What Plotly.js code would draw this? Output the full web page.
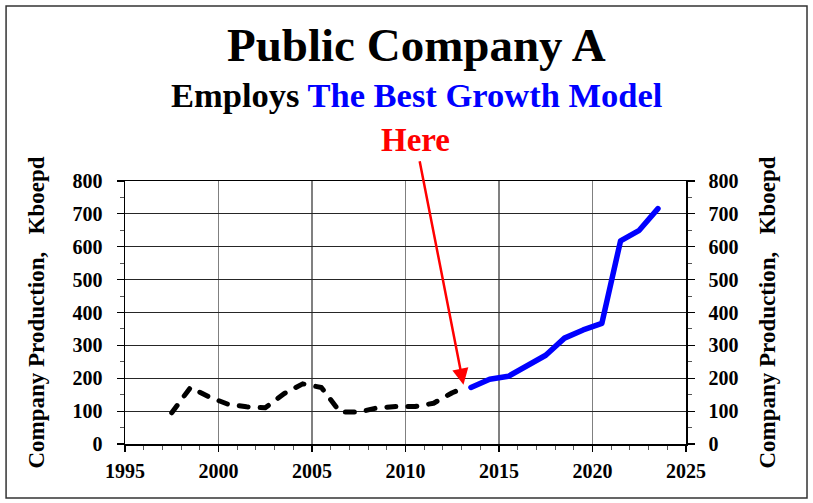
<!DOCTYPE html>
<html>
<head>
<meta charset="utf-8">
<script src="https://cdn.plot.ly/plotly-3.0.1.min.js"></script>
<style>
  html, body { margin: 0; padding: 0; background: #fff; }
  #chart { width: 813px; height: 503px; }
  .scatterlayer .js-line { stroke-linecap: round; stroke-linejoin: round; }
</style>
</head>
<body>
<div id="chart"></div>
<script>
// Historical production (dashed black), Kboepd
const historyYears  = [1997.5, 1998.5, 1999.5, 2000.5, 2001.5, 2002.5, 2003.5, 2004.5, 2005.5, 2006.5, 2007.5, 2008.5, 2009.5, 2010.5, 2011.5, 2012.5, 2013.0];
const historyValues = [95, 172, 143, 121, 113, 110, 153, 183, 172, 97, 97, 110, 114, 114, 124, 156, 167];

// Growth-model production (solid blue), Kboepd
const growthYears  = [2013.5, 2014.5, 2015.5, 2016.5, 2017.5, 2018.5, 2019.5, 2020.5, 2021.5, 2022.5, 2023.5];
const growthValues = [172, 197, 206, 236, 270, 322, 347, 367, 618, 650, 716];

const xTickValues = [1995, 2000, 2005, 2010, 2015, 2020, 2025];
const yTickValues = [0, 100, 200, 300, 400, 500, 600, 700, 800];

const titleText = 'Public Company A';
const subtitleBlack = 'Employs ';
const subtitleBlue = 'The Best Growth Model';
const arrowLabel = 'Here';
const arrowTarget = [2013.1, 180];
const yTitle = 'Company Production,\u00a0\u00a0\u00a0Kboepd';

const serif = 'Liberation Serif, Times New Roman, serif';

const traces = [
  {
    x: historyYears, y: historyValues, type: 'scatter', mode: 'lines',
    line: { color: '#000000', width: 5, dash: '9px,12px' },
    hoverinfo: 'skip', yaxis: 'y'
  },
  {
    x: growthYears, y: growthValues, type: 'scatter', mode: 'lines',
    line: { color: '#0000FF', width: 5.5 },
    hoverinfo: 'skip', yaxis: 'y2'
  }
];

const tickFont = { family: serif, size: 20, color: '#000', weight: 'bold' };
const yTitleFont = { family: serif, size: 23, color: '#000', weight: 'bold' };

const yCommon = {
  range: [0, 800], tickvals: yTickValues, ticktext: yTickValues.map(String),
  ticks: 'outside', ticklen: 7, tickwidth: 1.2, tickcolor: '#000',
  minor: { dtick: 50, tick0: 0, ticks: 'outside', ticklen: 4, tickcolor: '#555', tickwidth: 1, showgrid: false },
  tickfont: tickFont, ticklabelstandoff: 10,
  zeroline: false, automargin: false, fixedrange: true,
  title: { text: yTitle, font: yTitleFont, standoff: 21 }
};

const layout = {
  width: 813, height: 503,
  margin: { l: 125, r: 127, t: 181, b: 59 },
  paper_bgcolor: '#ffffff', plot_bgcolor: '#ffffff',
  showlegend: false,
  xaxis: {
    range: [1995, 2025], tickvals: xTickValues, ticktext: xTickValues.map(String),
    ticks: 'outside', ticklen: 6, tickwidth: 1.2, tickcolor: '#000',
    minor: { dtick: 1, tick0: 1995, ticks: 'outside', ticklen: 4, tickcolor: '#555', tickwidth: 1, showgrid: false },
    tickfont: tickFont, ticklabelstandoff: 2,
    showline: true, linecolor: '#000', linewidth: 1.5, mirror: true,
    showgrid: true, gridcolor: '#808080', gridwidth: 1.5,
    zeroline: false, automargin: false, fixedrange: true
  },
  yaxis: Object.assign({}, yCommon, {
    side: 'left',
    showline: true, linecolor: '#000', linewidth: 1.5, mirror: true,
    showgrid: true, gridcolor: '#262626', gridwidth: 1
  }),
  yaxis2: Object.assign({}, yCommon, {
    side: 'right', overlaying: 'y', anchor: 'x',
    showline: true, linecolor: '#000', linewidth: 1.5,
    showgrid: false
  }),
  annotations: [
    {
      xref: 'paper', yref: 'paper', x: 0.519, y: 1.517,
      text: '<b>' + titleText + '</b>', showarrow: false,
      font: { family: serif, size: 47, color: '#000' },
      xanchor: 'center', yanchor: 'middle'
    },
    {
      xref: 'paper', yref: 'paper', x: 0.519, y: 1.327,
      text: '<b>' + subtitleBlack + '<span style="color:#0000FF">' + subtitleBlue + '</span></b>',
      showarrow: false,
      font: { family: serif, size: 34.5, color: '#000' },
      xanchor: 'center', yanchor: 'middle'
    },
    {
      xref: 'x', yref: 'y', x: arrowTarget[0], y: arrowTarget[1],
      text: '<b>' + arrowLabel + '</b>',
      font: { family: serif, size: 33, color: '#FF0000' },
      showarrow: true, arrowcolor: '#FF0000', arrowwidth: 2.5,
      arrowhead: 2, arrowsize: 1.3, standoff: 0, startstandoff: 2,
      ax: -48, ay: -245
    }
  ],
  shapes: [
    {
      type: 'rect', xref: 'paper', yref: 'paper',
      x0: -0.212, x1: 1.2157, y0: -0.205, y1: 1.665,
      line: { color: '#333333', width: 1.5 }, fillcolor: 'rgba(0,0,0,0)', layer: 'below'
    }
  ]
};

Plotly.newPlot('chart', traces, layout, { staticPlot: true, displayModeBar: false });
</script>
</body>
</html>
